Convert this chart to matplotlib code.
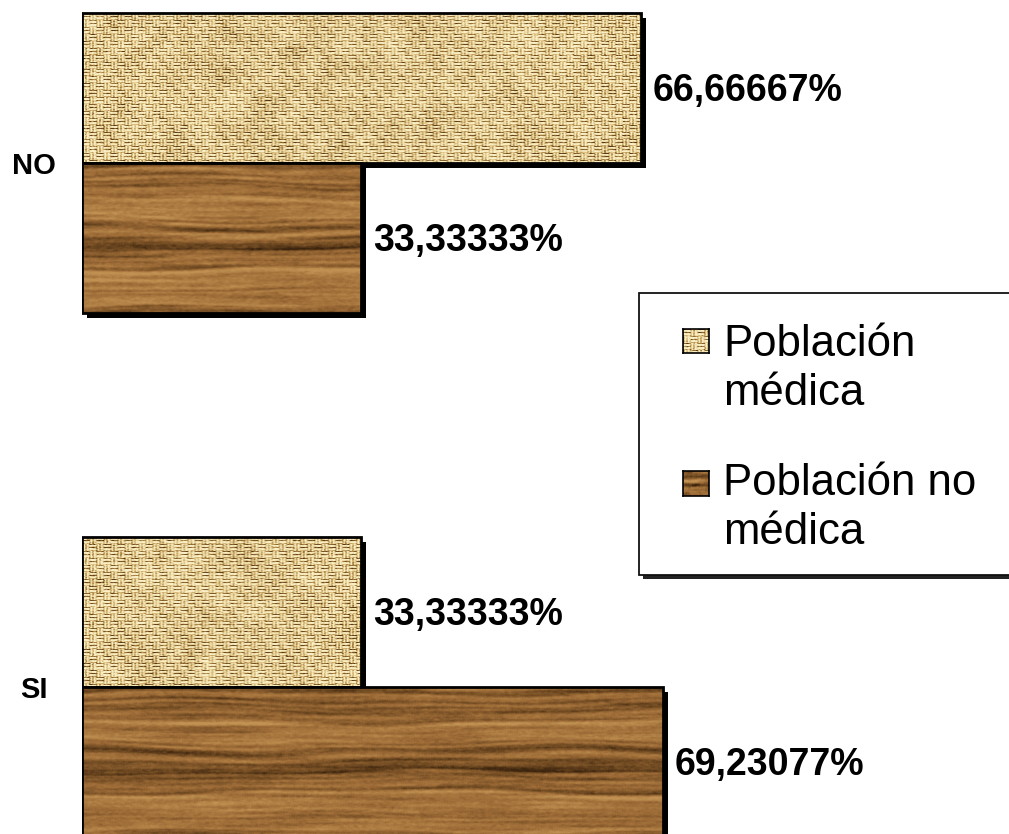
import numpy as np
import matplotlib
matplotlib.use("Agg")
import matplotlib.pyplot as plt
from matplotlib.patches import Rectangle
from matplotlib.transforms import ScaledTranslation

# ---- data -------------------------------------------------------------
categories = ["SI", "NO"]
series_names = ["Población médica", "Población no médica"]
medica = [33.33333, 66.66667]
no_medica = [69.23077, 33.33333]

plt.rcParams["font.family"] = ["Liberation Sans", "DejaVu Sans"]

W, H, DPI = 1009, 834, 100
fig = plt.figure(figsize=(W / DPI, H / DPI), dpi=DPI)
fig.patch.set_facecolor("white")

# ---- textures -----------------------------------------------------------
def _smooth(a, k, axis):
    k = max(1, min(k, a.shape[axis]))
    ker = np.ones(k) / k
    return np.apply_along_axis(lambda v: np.convolve(v, ker, mode="same"), axis, a)


def _ramp(b, stops):
    """Map brightness 0..1 through a list of (pos, rgb) colour stops."""
    pos = np.array([s[0] for s in stops])
    cols = np.array([s[1] for s in stops], dtype=float) / 255.0
    out = np.zeros(b.shape + (3,))
    for c in range(3):
        out[..., c] = np.interp(b, pos, cols[:, c])
    return out


def burlap(h, w, seed=3):
    """Basket-weave cloth pattern."""
    rng = np.random.default_rng(seed)
    yy, xx = np.mgrid[0:h, 0:w]
    cell = 7
    horiz = ((xx // cell) + (yy // cell)) % 2 == 0
    th = 3.5
    prof_h = np.sin(np.pi * ((yy % cell) % th + 0.5) / th)
    prof_v = np.sin(np.pi * ((xx % cell) % th + 0.5) / th)
    b = np.where(horiz, prof_h, prof_v)
    edge = ((xx % cell == 0) & ~horiz) | ((yy % cell == 0) & horiz)
    b = b * 0.85 + 0.2
    b[edge] *= 0.35
    b += rng.normal(0, 0.15, size=b.shape)
    blot = _smooth(_smooth(rng.normal(0, 1, size=(h, w)), 21, 0), 21, 1)
    b += blot * 1.0
    b = _smooth(b, 2, 1)
    b = np.clip(b, 0, 1)
    return _ramp(b, [(0.0, (85, 56, 20)), (0.3, (160, 122, 62)),
                     (0.6, (220, 192, 128)), (1.0, (250, 240, 200))])


def wood(h, w, seed=11):
    """Horizontal wood-grain pattern."""
    rng = np.random.default_rng(seed)
    n = 4 * h
    g = _smooth(rng.normal(0, 1, n), 7, 0) * 1.4 + _smooth(rng.normal(0, 1, n), 23, 0) * 3.2
    yy, xx = np.mgrid[0:h, 0:w].astype(float)
    warp = 2.5 * np.sin(xx / 90.0 + yy / 23.0) + 1.5 * np.sin(xx / 37.0 - yy / 11.0)
    idx = np.clip((yy + warp) * 2.0 + 20, 0, n - 1)
    b = np.interp(idx, np.arange(n), g)
    streak = _smooth(_smooth(rng.normal(0, 1, (h, w)), 3, 0), 90, 1) * 7.0
    b = b + streak + _smooth(rng.normal(0, 0.5, (h, w)), 4, 1)
    b = _smooth(b, 2, 0)
    b = (b - b.min()) / (b.max() - b.min())
    b = np.clip((b - 0.5) * 1.2 + 0.55, 0, 1)
    return _ramp(b, [(0.0, (60, 36, 14)), (0.3, (112, 74, 34)),
                     (0.6, (155, 106, 54)), (1.0, (192, 145, 82))])


# ---- main axes ----------------------------------------------------------
left_px = 82
px_per_unit = 8.385
ax_left = left_px / W
ax = fig.add_axes([ax_left, 0, 1 - ax_left, 1])
y_unit = 524.0
cat_y_px = 687
ymin = -(H - cat_y_px) / y_unit
ymax = 1 + 163 / y_unit
xmax = (W - left_px) / px_per_unit

bh = 150 / y_unit
pos = np.arange(len(categories))

shadow_off = ScaledTranslation(5 / DPI, -5 / DPI, fig.dpi_scale_trans)


def textured_bars(ypos, vals, texfn, z):
    bars = ax.barh(ypos, vals, height=bh, facecolor="none", edgecolor="black",
                   linewidth=2.0, zorder=z)
    for p in bars:
        x0, y0, bw, bhh = p.get_x(), p.get_y(), p.get_width(), p.get_height()
        ax.add_patch(Rectangle((x0, y0), bw, bhh, facecolor="black", edgecolor="none",
                               transform=ax.transData + shadow_off, zorder=z - 0.2))
        tex = texfn(int(round(bhh * y_unit)), int(round(bw * px_per_unit)))
        ax.imshow(tex, extent=(x0, x0 + bw, y0, y0 + bhh), aspect="auto",
                  interpolation="bilinear", zorder=z - 0.1)
    return bars


textured_bars(pos + bh / 2, medica, burlap, 3)
textured_bars(pos - bh / 2, no_medica, wood, 6)


def fmt(v):
    return f"{v:.5f}".replace(".", ",") + "%"


for i in pos:
    for v, yc in ((medica[i], i + bh / 2), (no_medica[i], i - bh / 2)):
        ax.annotate(fmt(v), (v, yc), xytext=(12, -13), textcoords="offset pixels",
                    ha="left", va="baseline", fontsize=27, fontweight="bold",
                    color="black", zorder=10)

ax.set_xlim(0, xmax)
ax.set_ylim(ymin, ymax)
ax.set_yticks(pos)
ax.set_yticklabels(categories, fontsize=21, fontweight="bold", ha="center")
ax.tick_params(axis="y", length=0, pad=48 * 72 / DPI)
ax.set_xticks([])
for s in ax.spines.values():
    s.set_visible(False)
ax.patch.set_alpha(0)

# ---- legend -------------------------------------------------------------
def fx(px):
    return px / W


def fy(py):
    return 1 - py / H


box_l, box_t, box_b, box_r = 639, 293, 575, 1020
fig.patches.append(Rectangle((fx(box_l + 4), fy(box_b + 4)), fx(box_r - box_l), (box_b - box_t) / H,
                             transform=fig.transFigure, facecolor="#222222", edgecolor="none", zorder=1))
fig.patches.append(Rectangle((fx(box_l), fy(box_b)), fx(box_r - box_l), (box_b - box_t) / H,
                             transform=fig.transFigure, facecolor="white", edgecolor="#111111",
                             linewidth=1.3, zorder=2))

legend_rows = [
    (burlap, (683, 329, 26, 24), ["Población", "médica"], 356),
    (wood, (683, 471, 26, 25), ["Población no", "médica"], 495),
]
for texfn, (mx, my, mw, mh), lines, base in legend_rows:
    m_ax = fig.add_axes([fx(mx), fy(my + mh), mw / W, mh / H], zorder=5)
    m_ax.imshow(texfn(mh, mw, seed=5), aspect="auto", interpolation="bilinear")
    m_ax.set_xticks([])
    m_ax.set_yticks([])
    for s in m_ax.spines.values():
        s.set_linewidth(1.2)
        s.set_color("black")
    for k, line in enumerate(lines):
        fig.text(fx(723), fy(base + 49 * k), line, fontsize=31.5, ha="left",
                 va="baseline", color="black", zorder=6)

fig.savefig("out.png", dpi=DPI, facecolor="white")
